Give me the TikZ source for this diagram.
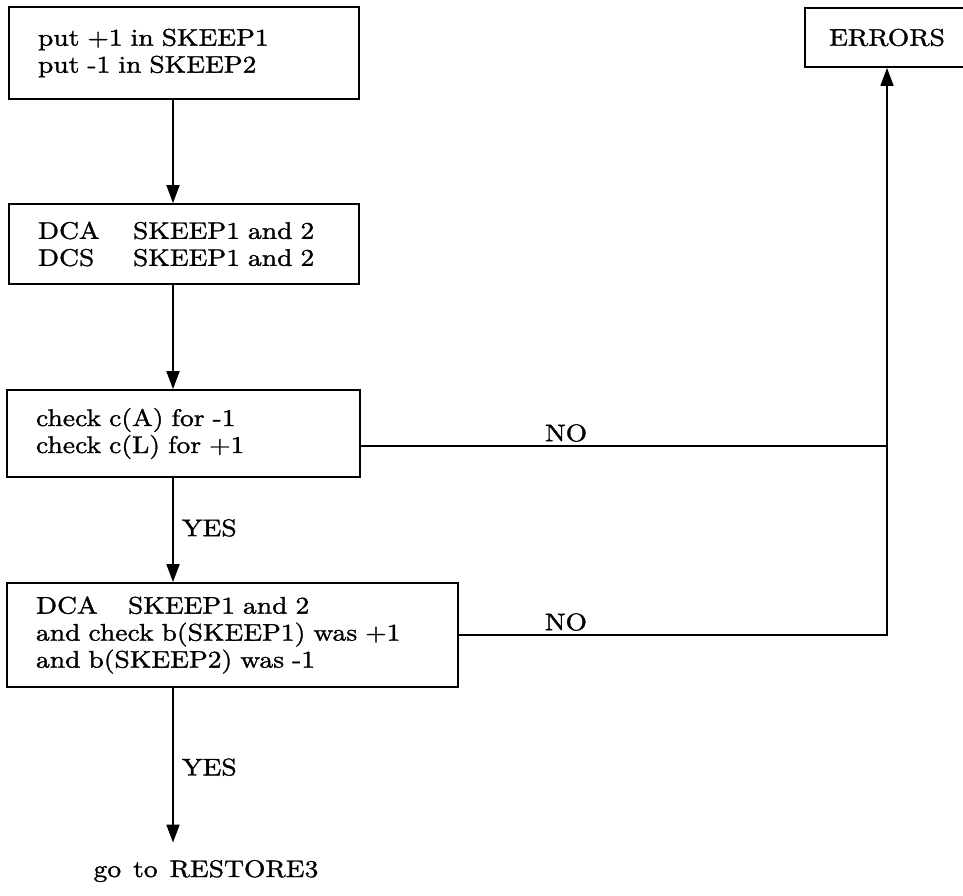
\documentclass[tikz,border=0pt]{standalone}
\usepackage{fontspec}
\setmainfont{lmroman10-regular.otf}[FakeStretch=1.15, FakeBold=1.3, WordSpace=1.3]
\usetikzlibrary{arrows.meta}

\tikzset{
    blockbox/.style={draw, line width=1.8pt, align=left, inner xsep=29pt, inner ysep=0pt, minimum height=#1},
    flowline/.style={line width=1.8pt},
    flowarrow/.style={line width=1.8pt, -{Triangle[length=18pt,width=13pt]}},
    answer/.style={inner xsep=8pt, inner ysep=3pt}
}

\begin{document}
\begin{tikzpicture}[x=1pt, y=-1pt, every node/.style={font=\fontsize{24}{27}\selectfont}]
    \clip (0,0) rectangle (963,896);

    % Линии стрелок
    \coordinate (ax) at (173,0);
    \coordinate (ex) at (887,0);
    \coordinate (j1) at (887,446);

    % Блоки
    \node[blockbox=92pt, text width=292pt] (put) at (184,53)
        {put +1 in SKEEP1\\put -1 in SKEEP2};
    \node[blockbox=80pt, text width=292pt] (dcs) at (184,244)
        {\makebox[95pt][l]{DCA}SKEEP1 and 2\\\makebox[95pt][l]{DCS}SKEEP1 and 2};
    \node[blockbox=87pt, text width=295pt] (chk) at (183.5,433.5)
        {check c(A) for -1\\check c(L) for +1};
    \node[blockbox=104pt, text width=393pt] (dca2) at (232.5,635)
        {\makebox[92pt][l]{DCA}SKEEP1 and 2\\and check b(SKEEP1) was +1\\and b(SKEEP2) was -1};
    \node[draw, line width=1.8pt, minimum width=164pt, minimum height=59pt] (err) at (887,37.5) {ERRORS};
    \node[anchor=base] (goto) at (206,877) {go to RESTORE3};

    % Переходы
    \draw[flowarrow] (put.south -| ax) -- (dcs.north -| ax);
    \draw[flowarrow] (dcs.south -| ax) -- (chk.north -| ax);
    \draw[flowarrow] (chk.south -| ax) -- node[answer, right, pos=.48] {YES} (dca2.north -| ax);
    \draw[flowarrow, shorten >=14pt] (dca2.south -| ax) -- node[answer, right, pos=.47] {YES} (goto.north -| ax);

    % Ветки NO
    \draw[flowline] (chk.east |- j1) -- node[above, pos=.39] {NO} (j1);
    \draw[flowarrow] (dca2.east) -- node[above, pos=.25] {NO} (dca2.east -| ex) -- (err.south);
\end{tikzpicture}
\end{document}
